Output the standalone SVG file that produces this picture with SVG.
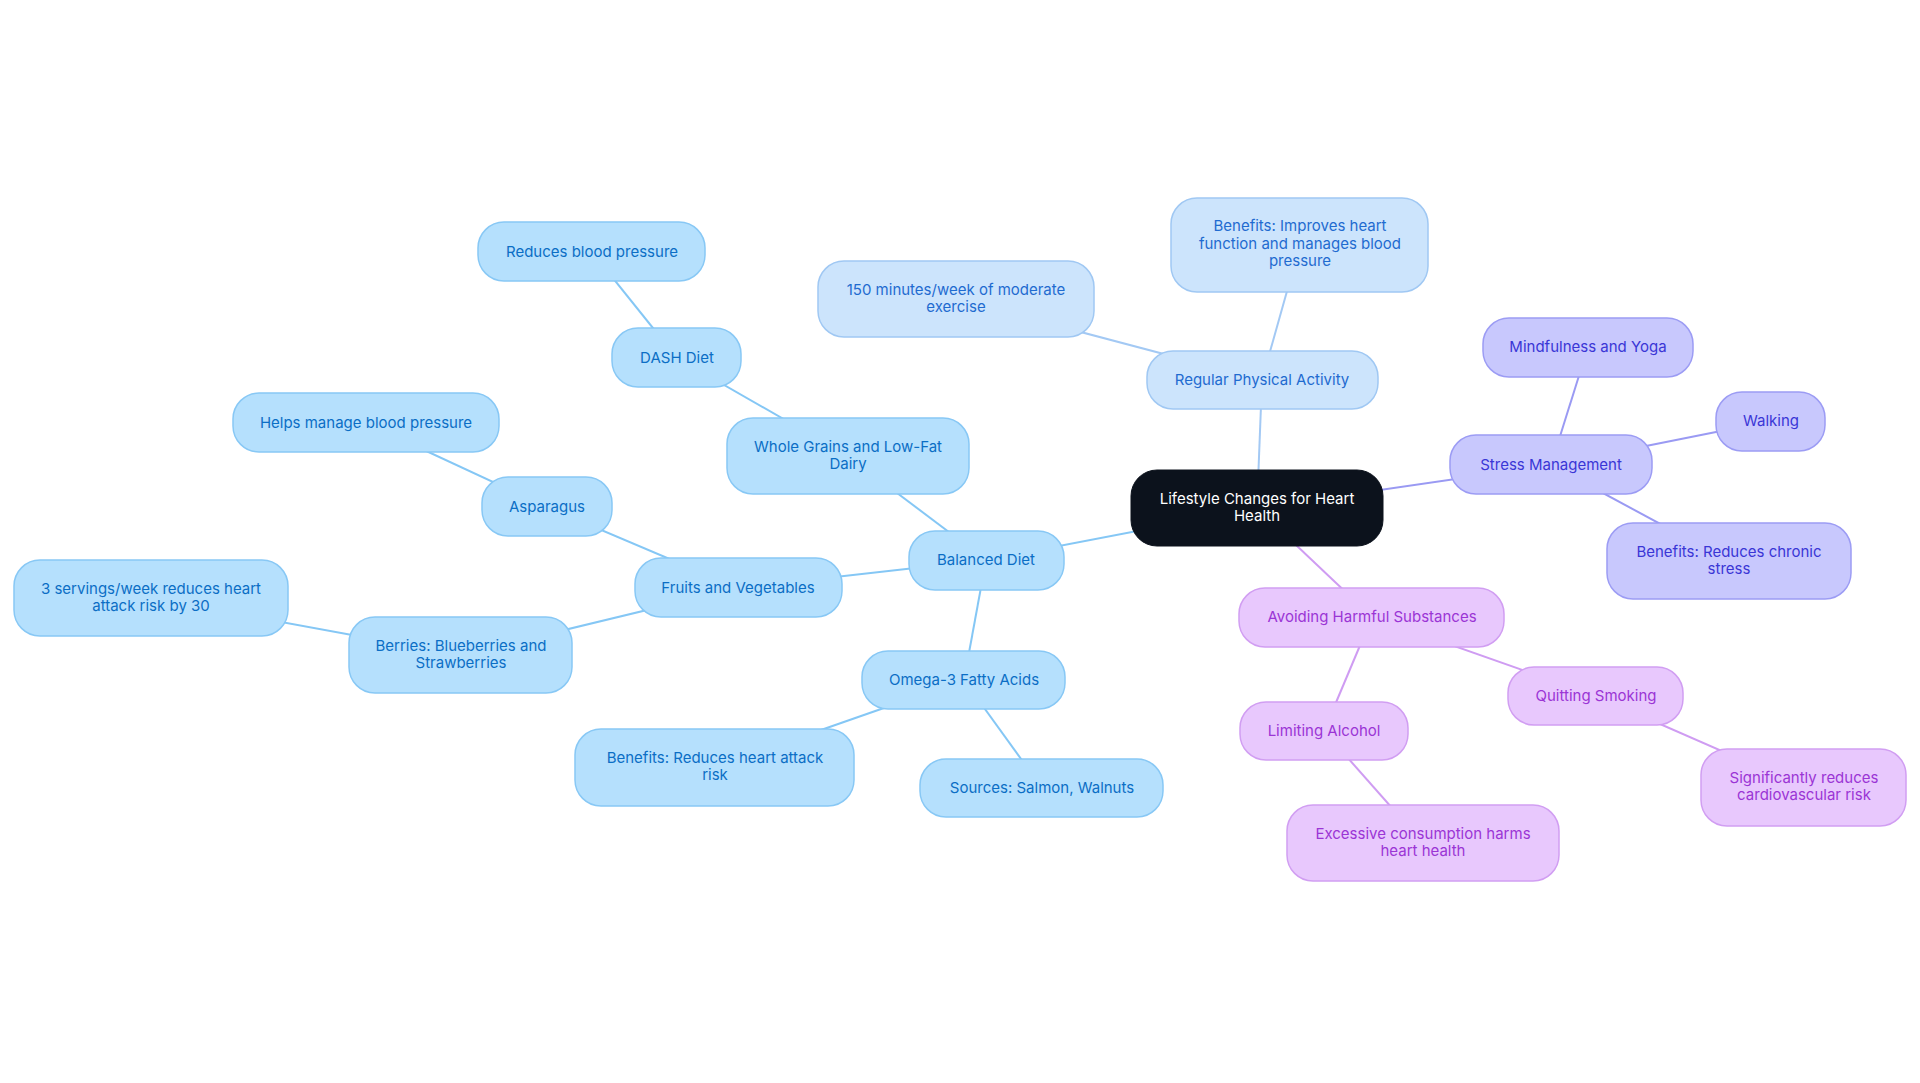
<svg xmlns="http://www.w3.org/2000/svg" width="1920" height="1083" viewBox="0 0 1920 1083">
<style>
text{font-family:Inter,"Noto Sans","Liberation Sans",sans-serif;font-size:15px;text-anchor:middle}
.e{fill:none;stroke-width:2}
.eb{stroke:#85c7f5}.ep{stroke:#a3c9f4}.es{stroke:#9a9af3}.eh{stroke:#cf9cf2}
.nb rect{fill:#b5e0fd;stroke:#88c8f5;stroke-width:1.5}.nb text{fill:#0b6ec5}
.np rect{fill:#cce4fc;stroke:#a0c8f3;stroke-width:1.5}.np text{fill:#1f6bd0}
.ns rect{fill:#c8c8fd;stroke:#9c9cf4;stroke-width:1.5}.ns text{fill:#3a36d6}
.nh rect{fill:#e8c8fd;stroke:#d19ef2;stroke-width:1.5}.nh text{fill:#9b35d5}
.nc rect{fill:#0c121c;stroke:#0c121c}.nc text{fill:#ffffff}
</style>
<rect width="1920" height="1083" fill="#ffffff"/>
<g id="connectors">
<line class="e ep" x1="1257" y1="508" x2="1262" y2="380"/>
<line class="e ep" x1="1262" y1="380" x2="1300" y2="245"/>
<line class="e ep" x1="1262" y1="380" x2="956" y2="299"/>
<line class="e es" x1="1257" y1="508" x2="1551" y2="465"/>
<line class="e es" x1="1551" y1="465" x2="1588" y2="347"/>
<line class="e es" x1="1551" y1="465" x2="1771" y2="421"/>
<line class="e es" x1="1551" y1="465" x2="1729" y2="561"/>
<line class="e eh" x1="1257" y1="508" x2="1372" y2="617"/>
<line class="e eh" x1="1372" y1="617" x2="1596" y2="696"/>
<line class="e eh" x1="1372" y1="617" x2="1324" y2="731"/>
<line class="e eh" x1="1596" y1="696" x2="1804" y2="787"/>
<line class="e eh" x1="1324" y1="731" x2="1423" y2="843"/>
<line class="e eb" x1="1257" y1="508" x2="986" y2="560"/>
<line class="e eb" x1="986" y1="560" x2="848" y2="456"/>
<line class="e eb" x1="848" y1="456" x2="677" y2="358"/>
<line class="e eb" x1="677" y1="358" x2="592" y2="252"/>
<line class="e eb" x1="986" y1="560" x2="738" y2="588"/>
<line class="e eb" x1="738" y1="588" x2="547" y2="507"/>
<line class="e eb" x1="547" y1="507" x2="366" y2="423"/>
<line class="e eb" x1="738" y1="588" x2="461" y2="655"/>
<line class="e eb" x1="461" y1="655" x2="151" y2="598"/>
<line class="e eb" x1="986" y1="560" x2="964" y2="680"/>
<line class="e eb" x1="964" y1="680" x2="715" y2="767"/>
<line class="e eb" x1="964" y1="680" x2="1042" y2="788"/>
</g>
<g id="n-center" class="nc"><rect x="1131" y="470" width="252" height="76" rx="26"/><text x="1257" y="503.5">Lifestyle Changes for Heart</text><text x="1257" y="521">Health</text></g>
<g id="n-activity" class="np"><rect x="1147" y="351" width="231" height="58" rx="26"/><text x="1262" y="384.5">Regular Physical Activity</text></g>
<g id="n-activity-benefits" class="np"><rect x="1171" y="198" width="257" height="94" rx="26"/><text x="1300" y="231">Benefits: Improves heart</text><text x="1300" y="248.5">function and manages blood</text><text x="1300" y="266">pressure</text></g>
<g id="n-150" class="np"><rect x="818" y="261" width="276" height="76" rx="26"/><text x="956" y="294.5">150 minutes/week of moderate</text><text x="956" y="312">exercise</text></g>
<g id="n-stress" class="ns"><rect x="1450" y="435" width="202" height="59" rx="26"/><text x="1551" y="469.5">Stress Management</text></g>
<g id="n-mindfulness" class="ns"><rect x="1483" y="318" width="210" height="59" rx="26"/><text x="1588" y="351.5">Mindfulness and Yoga</text></g>
<g id="n-walking" class="ns"><rect x="1716" y="392" width="109" height="59" rx="26"/><text x="1771" y="425.5">Walking</text></g>
<g id="n-stress-benefits" class="ns"><rect x="1607" y="523" width="244" height="76" rx="26"/><text x="1729" y="556.5">Benefits: Reduces chronic</text><text x="1729" y="574">stress</text></g>
<g id="n-avoid" class="nh"><rect x="1239" y="588" width="265" height="59" rx="26"/><text x="1372" y="621.5">Avoiding Harmful Substances</text></g>
<g id="n-smoking" class="nh"><rect x="1508" y="667" width="175" height="58" rx="26"/><text x="1596" y="700.5">Quitting Smoking</text></g>
<g id="n-alcohol" class="nh"><rect x="1240" y="702" width="168" height="58" rx="26"/><text x="1324" y="735.5">Limiting Alcohol</text></g>
<g id="n-excessive" class="nh"><rect x="1287" y="805" width="272" height="76" rx="26"/><text x="1423" y="838.5">Excessive consumption harms</text><text x="1423" y="856">heart health</text></g>
<g id="n-significantly" class="nh"><rect x="1701" y="749" width="205" height="77" rx="26"/><text x="1804" y="782.5">Significantly reduces</text><text x="1804" y="800">cardiovascular risk</text></g>
<g id="n-balanced" class="nb"><rect x="909" y="531" width="155" height="59" rx="26"/><text x="986" y="564.5">Balanced Diet</text></g>
<g id="n-wholegrains" class="nb"><rect x="727" y="418" width="242" height="76" rx="26"/><text x="848" y="451.5">Whole Grains and Low-Fat</text><text x="848" y="469">Dairy</text></g>
<g id="n-dash" class="nb"><rect x="612" y="328" width="129" height="59" rx="26"/><text x="677" y="362.5">DASH Diet</text></g>
<g id="n-reduces-bp" class="nb"><rect x="478" y="222" width="227" height="59" rx="26"/><text x="592" y="256.5">Reduces blood pressure</text></g>
<g id="n-fruits" class="nb"><rect x="635" y="558" width="207" height="59" rx="26"/><text x="738" y="592.5">Fruits and Vegetables</text></g>
<g id="n-asparagus" class="nb"><rect x="482" y="477" width="130" height="59" rx="26"/><text x="547" y="511.5">Asparagus</text></g>
<g id="n-helps" class="nb"><rect x="233" y="393" width="266" height="59" rx="26"/><text x="366" y="427.5">Helps manage blood pressure</text></g>
<g id="n-berries" class="nb"><rect x="349" y="617" width="223" height="76" rx="26"/><text x="461" y="650.5">Berries: Blueberries and</text><text x="461" y="668">Strawberries</text></g>
<g id="n-servings" class="nb"><rect x="14" y="560" width="274" height="76" rx="26"/><text x="151" y="593.5">3 servings/week reduces heart</text><text x="151" y="611">attack risk by 30</text></g>
<g id="n-omega" class="nb"><rect x="862" y="651" width="203" height="58" rx="26"/><text x="964" y="684.5">Omega-3 Fatty Acids</text></g>
<g id="n-omega-benefits" class="nb"><rect x="575" y="729" width="279" height="77" rx="26"/><text x="715" y="762.5">Benefits: Reduces heart attack</text><text x="715" y="780">risk</text></g>
<g id="n-sources" class="nb"><rect x="920" y="759" width="243" height="58" rx="26"/><text x="1042" y="792.5">Sources: Salmon, Walnuts</text></g>
</svg>
